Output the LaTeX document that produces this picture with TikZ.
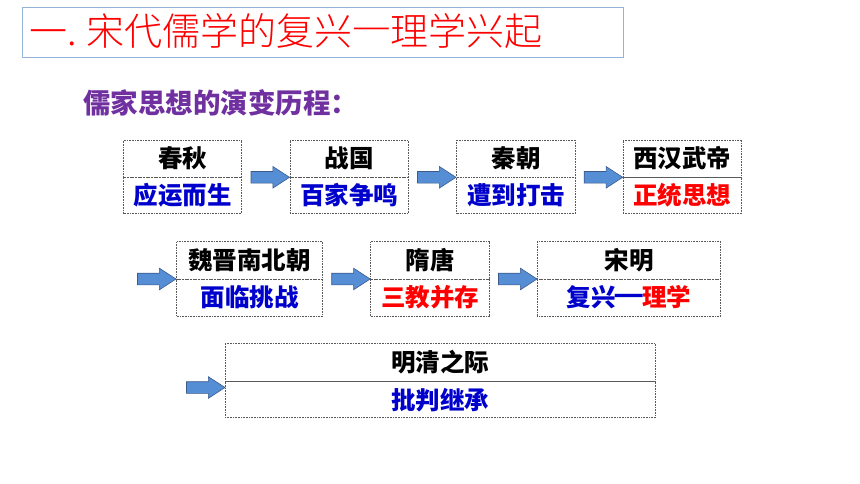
\documentclass[tikz,border=0pt]{standalone}
\usepackage{fontspec}
\usepackage{graphicx}
\newfontfamily\cjk{Noto Sans CJK SC}
\newfontfamily\cjklight{Noto Sans CJK SC Light}
\usetikzlibrary{shapes.arrows}
\definecolor{tblue}{RGB}{0,0,204}
\definecolor{tred}{RGB}{255,0,0}
\definecolor{tpurple}{RGB}{112,48,160}
\definecolor{afill}{RGB}{85,142,213}
\definecolor{aline}{RGB}{60,90,140}
\definecolor{tbox}{RGB}{149,179,215}
\definecolor{dotgray}{RGB}{90,90,90}
\newcommand{\titledash}{\makebox[1em][c]{\raisebox{0.15em}{\scalebox{1.15}[1]{—}}}}
\newcommand{\boxdash}{\makebox[1.1em][c]{\raisebox{0.1em}{\scalebox{1.4}[1.2]{—}}}}
\begin{document}
\begin{tikzpicture}[x=1pt,y=-1pt,
  cell/.style={draw=dotgray, dash pattern=on 0.8pt off 0.8pt, line width=0.7pt, inner sep=0pt,
    font=\cjk\bfseries\fontsize{24.5}{24.5}\selectfont, anchor=center},
  toptext/.style={cell, text=black},
  bluetext/.style={cell, text=tblue},
  redtext/.style={cell, text=tred},
  blockarrow/.style={single arrow, draw=aline, fill=afill, line width=0.6pt,
    inner xsep=0pt, inner ysep=5.5pt,
    minimum height=38.5pt, single arrow head extend=5pt,
    single arrow tip angle=66, anchor=center}
]
\useasboundingbox (0,0) rectangle (860,484);
\fill[white] (0,0) rectangle (860,484);
% title
\node[draw=tbox, line width=0.8pt, minimum width=600.6pt, minimum height=50pt, inner sep=0pt] (titlebox) at (323,32.3) {};
\node[anchor=base west, inner sep=0pt, text=tred, font=\cjklight\fontsize{38}{38}\selectfont] (title) at (29,45.5) {一.\hspace{10pt}宋代儒学的复兴\titledash 理学兴起};
\node[anchor=west, inner sep=0pt, text=tpurple, font=\cjk\bfseries\fontsize{27.5}{27.5}\selectfont] (sub) at (83,102.4) {儒家思想的演变历程：};
% row 1
\node[toptext, minimum width=118pt, minimum height=37pt] (a1) at (182.6,158.5) {春秋};
\node[bluetext, minimum width=118pt, minimum height=36.5pt] (b1) at (182.6,195.25) {应运而生};
\node[toptext, minimum width=118pt, minimum height=37pt] (a2) at (349,158.5) {战国};
\node[bluetext, minimum width=118pt, minimum height=36.5pt] (b2) at (349,195.25) {百家争鸣};
\node[toptext, minimum width=119pt, minimum height=37pt] (a3) at (516,158.5) {秦朝};
\node[bluetext, minimum width=119pt, minimum height=36.5pt] (b3) at (516,195.25) {遭到打击};
\node[toptext, minimum width=118.7pt, minimum height=37pt] (a4) at (682.3,158.5) {西汉武帝};
\node[redtext, minimum width=118.7pt, minimum height=36.5pt] (b4) at (682.3,195.25) {正统思想};
\node[blockarrow] (r1) at (265.8,177.3) {};
\node[blockarrow] (r2) at (432.3,177.3) {};
\node[blockarrow] (r3) at (599,177.3) {};
% row 2
\node[toptext, minimum width=146pt, minimum height=37.3pt] (a5) at (249.7,260.35) {魏晋南北朝};
\node[bluetext, minimum width=146pt, minimum height=37pt] (b5) at (249.7,297.5) {面临挑战};
\node[toptext, minimum width=118.6pt, minimum height=37.3pt] (a6) at (430,260.35) {隋唐};
\node[redtext, minimum width=118.6pt, minimum height=37pt] (b6) at (430,297.5) {三教并存};
\node[toptext, minimum width=183.4pt, minimum height=37.3pt] (a7) at (629,260.35) {宋明};
\node[bluetext, minimum width=183.4pt, minimum height=37pt] (b7) at (629,297.5) {复兴\boxdash{\color{tred}理学}};
\node[blockarrow] (r4) at (152.3,279) {};
\node[blockarrow] (r5) at (346.5,279) {};
\node[blockarrow] (r6) at (513.3,279) {};
% row 3
\node[toptext, minimum width=430pt, minimum height=38.4pt] (a8) at (440,362.5) {明清之际};
\node[bluetext, minimum width=430pt, minimum height=36pt] (b8) at (440,399.7) {批判继承};
\node[blockarrow] (r7) at (201.3,387.5) {};
\end{tikzpicture}
\end{document}
